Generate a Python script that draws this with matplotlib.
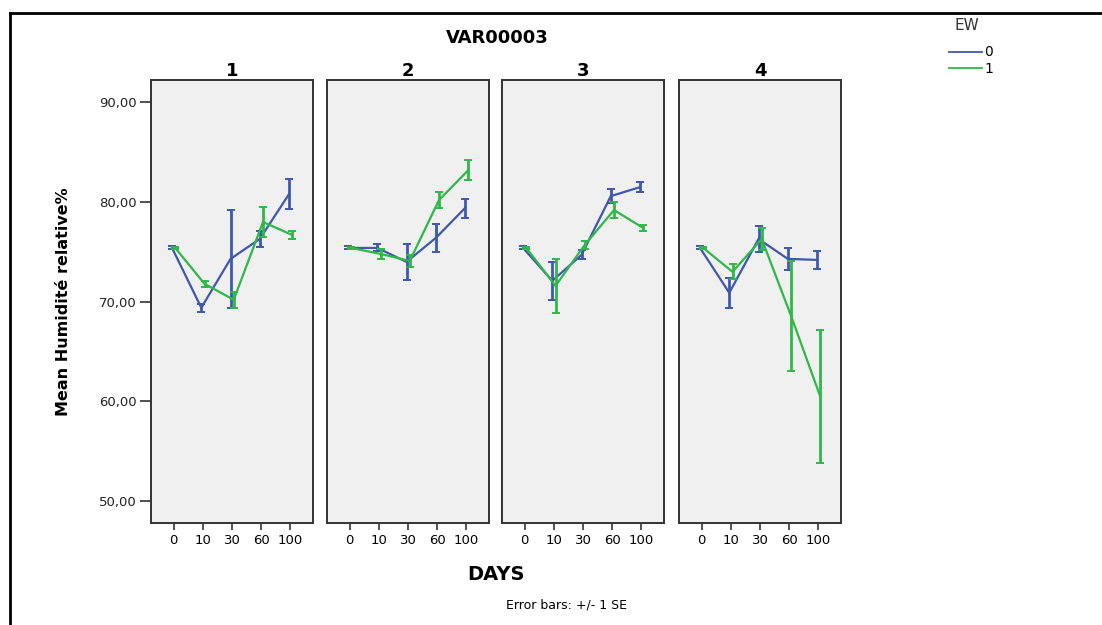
import matplotlib.pyplot as plt
import numpy as np
from matplotlib.lines import Line2D

# values (mean +/- 1 SE per panel)
days = ["0", "10", "30", "60", "100"]
panels = ["1", "2", "3", "4"]
ew_levels = ["0", "1"]

mean_ew0 = [
    [75.4, 69.4, 74.3, 76.3, 80.8],
    [75.4, 75.4, 74.0, 76.4, 79.4],
    [75.4, 72.1, 74.7, 80.6, 81.5],
    [75.4, 70.9, 76.3, 74.3, 74.2],
]
se_ew0 = [
    [0.15, 0.4, 4.9, 0.8, 1.5],
    [0.15, 0.35, 1.8, 1.4, 0.95],
    [0.15, 1.9, 0.45, 0.7, 0.5],
    [0.15, 1.5, 1.35, 1.1, 0.9],
]
mean_ew1 = [
    [75.4, 71.8, 70.2, 78.0, 76.7],
    [75.4, 74.8, 74.1, 80.2, 83.2],
    [75.4, 71.6, 75.7, 79.2, 77.4],
    [75.4, 73.0, 76.3, 68.6, 60.5],
]
se_ew1 = [
    [0.1, 0.3, 0.8, 1.5, 0.4],
    [0.1, 0.5, 0.6, 0.8, 1.0],
    [0.1, 2.7, 0.4, 0.8, 0.35],
    [0.1, 0.75, 1.1, 5.5, 6.7],
]

colors = ["#3e58ac", "#2eb848"]
dodge = [-0.05, 0.06]

W, H = 1102, 625
fig = plt.figure(figsize=(W / 100, H / 100), dpi=100)

# panel geometry in pixels (left edges), same width/height for all
lefts = [151, 327, 502, 679]
pw, top, bottom = 162, 80, 523

x = np.arange(len(days))
for i, name in enumerate(panels):
    ax = fig.add_axes([lefts[i] / W, 1 - bottom / H, pw / W, (bottom - top) / H])
    ax.set_facecolor("#f0f0f0")
    for j, (means, ses) in enumerate([(mean_ew0, se_ew0), (mean_ew1, se_ew1)]):
        ax.errorbar(x + dodge[j], means[i], yerr=ses[i], color=colors[j], lw=1.6,
                    elinewidth=2.0, capsize=3, capthick=1.4, zorder=3 + j)
    ax.set_xlim(-0.77, 4.77)
    ax.set_ylim(47.8, 92.25)
    ax.set_xticks(x)
    ax.set_xticklabels(days, fontsize=9.5)
    ax.tick_params(axis="x", length=5, width=1.2, color="#333333", pad=3)
    ax.set_yticks([50, 60, 70, 80, 90])
    if i == 0:
        ax.set_yticklabels([f"{v},00" for v in [50, 60, 70, 80, 90]], fontsize=9.5, color="#222222")
        ax.tick_params(axis="y", length=8, width=1.2, color="#333333", pad=2)
    else:
        ax.tick_params(axis="y", left=False, labelleft=False)
    for s in ax.spines.values():
        s.set_color("#333333")
        s.set_linewidth(1.4)
    ax.set_title(name, fontsize=13, fontweight="bold", pad=3)

fig.text(497 / W, 1 - 38 / H, "VAR00003", ha="center", va="center", fontsize=13, fontweight="bold")
fig.text(63 / W, 1 - 302 / H, "Mean Humidité relative%", rotation=90, ha="center", va="center",
         fontsize=11.5, fontweight="bold")
fig.text(496 / W, 1 - 575 / H, "DAYS", ha="center", va="center", fontsize=14, fontweight="bold")
fig.text(566 / W, 1 - 605 / H, "Error bars: +/- 1 SE", ha="center", va="center", fontsize=9)

# legend: title placed separately to match the SPSS spacing
fig.text(967 / W, 1 - 25 / H, "EW", ha="center", va="center", fontsize=11, color="#333333")
handles = [Line2D([], [], color=c, lw=1.3) for c in colors]
fig.legend(handles, ew_levels, loc="upper left", bbox_to_anchor=(936 / W, 1 - 33 / H),
           frameon=False, fontsize=10, handlelength=2.4, handletextpad=0.2, labelspacing=0.15)

# outer frame (left and top edges visible in the reference)
fig.add_artist(Line2D([10 / W, 10 / W], [0, 1 - 13 / H], color="black", lw=2))
fig.add_artist(Line2D([10 / W, 1], [1 - 13 / H, 1 - 13 / H], color="black", lw=2))

fig.savefig("out.png", dpi=100)
